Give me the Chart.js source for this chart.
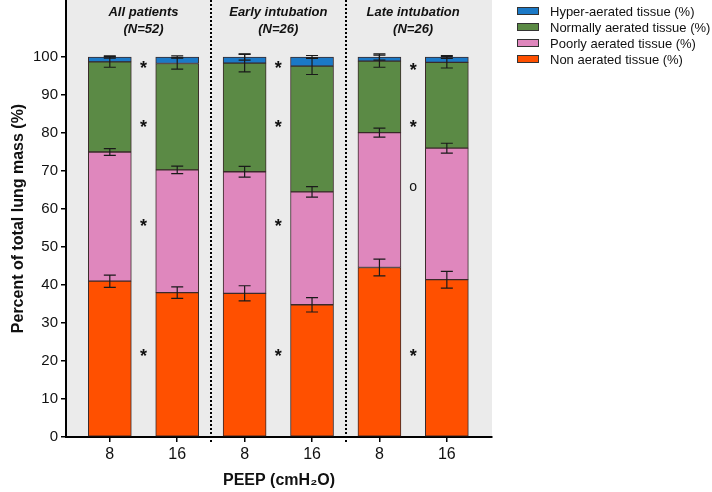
<!DOCTYPE html>
<html>
<head>
<meta charset="utf-8">
<script src="https://cdn.jsdelivr.net/npm/chart.js@4"></script>
<style>
  html, body { margin: 0; padding: 0; background: #fff; }
  canvas { display: block; }
</style>
</head>
<body>
<canvas id="lungChart" width="712" height="492"></canvas>
<script>
// PEEP level of each bar, three groups of two
const categories = ['8', '16', '8', '16', '8', '16'];
const groupTitles = [['All patients', '(N=52)'], ['Early intubation', '(N=26)'], ['Late intubation', '(N=26)']];
const groupCenters = [0.5, 2.5, 4.5];
const separators = [1.5, 3.5];

// mean share of lung mass (%) per compartment, stacked bottom to top
const nonAerated = [41.0, 38.0, 37.8, 34.8, 44.6, 41.4];
const poorlyAerated = [34.0, 32.3, 32.0, 29.7, 35.5, 34.6];
const normallyAerated = [23.7, 28.0, 28.6, 33.1, 18.8, 22.6];
const hyperAerated = [1.3, 1.7, 1.6, 2.4, 1.1, 1.4];

// SEM of each compartment
const nonErr = [1.6, 1.5, 2.0, 1.9, 2.2, 2.2];
const poorlyErr = [0.9, 1.0, 1.4, 1.4, 1.2, 1.3];
const normallyErr = [1.4, 1.5, 2.3, 2.2, 1.6, 1.5];
const hyperErr = [0.3, 0.3, 0.8, 0.4, 0.8, 0.4];

const yTicks = [0, 10, 20, 30, 40, 50, 60, 70, 80, 90, 100];

// significance marks between the two bars of each group
const markX = [0.5, 0.5, 0.5, 0.5, 2.5, 2.5, 2.5, 2.5, 4.5, 4.5, 4.5, 4.5];
const markY = [98.3, 82.8, 56.8, 22.6, 98.3, 82.8, 56.8, 22.6, 97.8, 82.8, 65.7, 22.6];
const markText = ['*', '*', '*', '*', '*', '*', '*', '*', '*', '*', 'o', '*'];

const FONT = '"Liberation Sans", Arial, Helvetica, sans-serif';
Chart.defaults.font.family = FONT;
Chart.defaults.color = '#111';

function points(values) {
    return values.map((v, i) => ({ x: i, y: v }));
}

const series = [
    { label: 'Non aerated tissue (%)', values: nonAerated, err: nonErr, color: '#ff5000' },
    { label: 'Poorly aerated tissue (%)', values: poorlyAerated, err: poorlyErr, color: '#df87bd' },
    { label: 'Normally aerated tissue (%)', values: normallyAerated, err: normallyErr, color: '#5b8a45' },
    { label: 'Hyper-aerated tissue (%)', values: hyperAerated, err: hyperErr, color: '#1b79c6' },
];

const backdrop = {
    id: 'backdrop',
    beforeDraw(chart) {
        const { ctx, chartArea: a } = chart;
        ctx.save();
        ctx.fillStyle = '#ebebeb';
        ctx.fillRect(a.left, a.top, a.right - a.left, a.bottom - a.top);
        ctx.restore();
    },
};

const extras = {
    id: 'extras',
    afterDatasetsDraw(chart) {
        const { ctx, chartArea: a, scales: { x, y } } = chart;
        ctx.save();

        // error bars at the top of each segment
        ctx.strokeStyle = '#1a1a1a';
        ctx.lineWidth = 1.2;
        const totals = categories.map(() => 0);
        series.forEach((s, d) => {
            const meta = chart.getDatasetMeta(d);
            s.values.forEach((v, i) => {
                totals[i] += v;
                const cx = meta.data[i].x;
                const y1 = y.getPixelForValue(totals[i] + s.err[i]);
                const y2 = y.getPixelForValue(totals[i] - s.err[i]);
                ctx.beginPath();
                ctx.moveTo(cx, y1); ctx.lineTo(cx, y2);
                ctx.moveTo(cx - 6, y1); ctx.lineTo(cx + 6, y1);
                ctx.moveTo(cx - 6, y2); ctx.lineTo(cx + 6, y2);
                ctx.stroke();
            });
        });

        // dotted group separators
        ctx.strokeStyle = '#000';
        ctx.lineWidth = 2;
        ctx.setLineDash([2, 2]);
        separators.forEach((s) => {
            const px = Math.round(x.getPixelForValue(s));
            ctx.beginPath();
            ctx.moveTo(px, a.top);
            ctx.lineTo(px, a.bottom + 5);
            ctx.stroke();
        });
        ctx.setLineDash([]);

        // group titles
        ctx.fillStyle = '#111';
        ctx.textAlign = 'center';
        ctx.textBaseline = 'middle';
        ctx.font = `italic bold 13px ${FONT}`;
        groupTitles.forEach((lines, g) => {
            const px = x.getPixelForValue(groupCenters[g]);
            lines.forEach((t, k) => ctx.fillText(t, px, a.top + 12 + k * 17));
        });

        // significance marks
        markText.forEach((t, i) => {
            const px = x.getPixelForValue(markX[i]);
            const py = y.getPixelForValue(markY[i]);
            if (t === '*') {
                ctx.font = `bold 18px ${FONT}`;
                ctx.textBaseline = 'alphabetic';
                ctx.fillText(t, px, py + 11);
            } else {
                ctx.font = `14px ${FONT}`;
                ctx.textBaseline = 'middle';
                ctx.fillText(t, px, py);
            }
        });

        // legend, top compartment first
        ctx.font = `13px ${FONT}`;
        ctx.textAlign = 'left';
        ctx.textBaseline = 'middle';
        series.slice().reverse().forEach((s, k) => {
            const cy = 12 + k * 16;
            ctx.fillStyle = s.color;
            ctx.fillRect(517, cy - 5, 22, 8);
            ctx.strokeStyle = '#333';
            ctx.lineWidth = 1;
            ctx.strokeRect(517.5, cy - 4.5, 21, 7);
            ctx.fillStyle = '#111';
            ctx.fillText(s.label, 550, cy);
        });

        ctx.restore();
    },
};

new Chart(document.getElementById('lungChart'), {
    type: 'bar',
    data: {
        datasets: series.map((s) => ({
            label: s.label,
            data: points(s.values),
            backgroundColor: s.color,
            borderColor: '#3a2a2a',
            borderWidth: 1,
            borderSkipped: false,
            barThickness: 43,
        })),
    },
    options: {
        responsive: false,
        animation: false,
        layout: { padding: { left: 0, right: 220, top: 0, bottom: 0 } },
        scales: {
            x: {
                type: 'linear',
                stacked: true,
                offset: false,
                min: -0.65,
                max: 5.67,
                afterBuildTicks: (scale) => { scale.ticks = categories.map((c, i) => ({ value: i })); },
                afterFit: (scale) => { scale.height = 55; scale.paddingLeft = 0; scale.paddingRight = 0; },
                ticks: {
                    callback: (value) => categories[value],
                    font: { size: 16 },
                    color: '#111',
                    padding: 3,
                    maxRotation: 0,
                },
                grid: { offset: false, drawOnChartArea: false, drawTicks: true, tickLength: 5, color: '#000', lineWidth: 1.5 },
                border: { display: true, color: '#000', width: 2 },
                title: {
                    display: true,
                    text: 'PEEP (cmH₂O)',
                    font: { size: 16, weight: 'bold' },
                    color: '#111',
                    padding: { top: 0, bottom: 2 },
                },
            },
            y: {
                stacked: true,
                min: 0,
                max: 115,
                afterBuildTicks: (scale) => { scale.ticks = yTicks.map((v) => ({ value: v })); },
                afterFit: (scale) => { scale.width = 66; scale.paddingTop = 0; scale.paddingBottom = 0; },
                ticks: { font: { size: 15 }, color: '#111', padding: 3 },
                grid: { drawOnChartArea: false, drawTicks: true, tickLength: 5, color: '#000', lineWidth: 1.5 },
                border: { display: true, color: '#000', width: 2 },
                title: {
                    display: true,
                    text: 'Percent of total lung mass (%)',
                    font: { size: 16, weight: 'bold' },
                    color: '#111',
                    padding: { top: 9, bottom: 0 },
                },
            },
        },
        plugins: {
            legend: { display: false },
            tooltip: { enabled: false },
        },
    },
    plugins: [backdrop, extras],
});
</script>
</body>
</html>
